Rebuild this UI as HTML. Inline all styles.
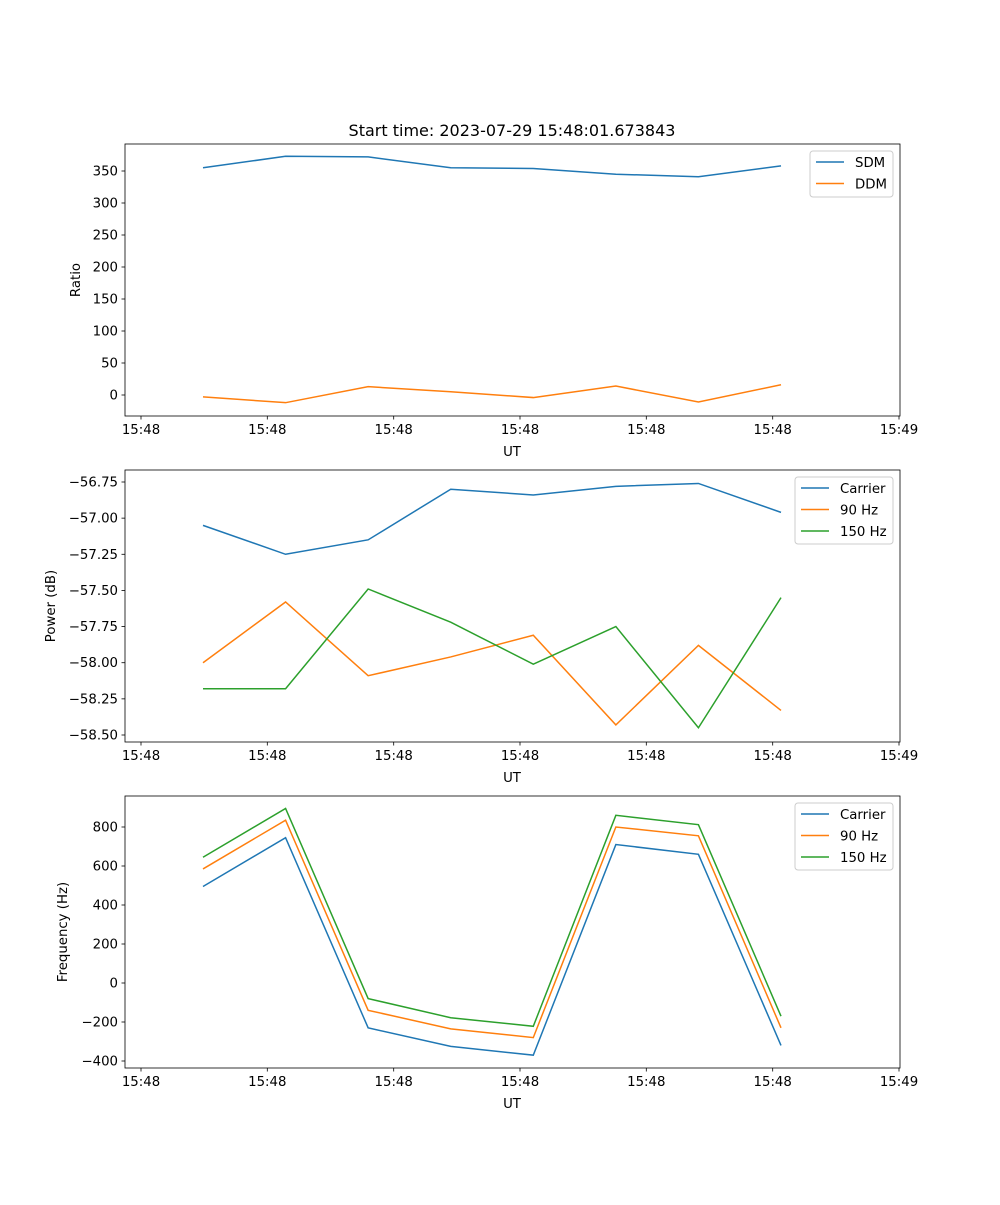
<!DOCTYPE html>
<html><head><meta charset="utf-8"><style>
body{margin:0;background:#fff}
svg text{font-family:"DejaVu Sans","Liberation Sans",sans-serif;font-size:13.3px;fill:#000}
</style></head><body>
<svg id="fig" width="1000" height="1200" xmlns="http://www.w3.org/2000/svg"></svg>
<script>
const xIdx=[0,1,2,3,4,5,6,7];
const xTickLabels=["15:48","15:48","15:48","15:48","15:48","15:48","15:49"];
const sdm=[355,373,372,355,354,345,341,358];
const ddm=[-3,-12,13,5,-4,14,-11,16];
const pCarrier=[-57.05,-57.25,-57.15,-56.80,-56.84,-56.78,-56.76,-56.96];
const p90=[-58.00,-57.58,-58.09,-57.96,-57.81,-58.43,-57.88,-58.33];
const p150=[-58.18,-58.18,-57.49,-57.72,-58.01,-57.75,-58.45,-57.55];
const fCarrier=[495,745,-230,-325,-370,710,660,-320];
const f90=[585,835,-140,-235,-280,800,755,-230];
const f150=[645,895,-80,-178,-222,860,812,-170];
const ticks1=[0,50,100,150,200,250,300,350];
const ticks2=[-58.5,-58.25,-58,-57.75,-57.5,-57.25,-57,-56.75];
const ticks3=[-400,-200,0,200,400,600,800];
const C=["#1f77b4","#ff7f0e","#2ca02c"];
const svg=document.getElementById('fig');
const NS="http://www.w3.org/2000/svg";
function el(t,a,p){const e=document.createElementNS(NS,t);for(const k in a)e.setAttribute(k,a[k]);(p||svg).appendChild(e);return e;}
const L=125,R=900;
function xs(i){return 203+i*(781-203)/7;}
const xTickPos=[141,267.3,393.7,520,646.3,772.7,899];
function panel(top,bot,v0,p0,v1,p1,ticks,fmt,ylabel,series,names,legH,name){
  const g=el('g',{});
  
  const ys=v=>p0+(v-v0)*(p1-p0)/(v1-v0);
  ticks.forEach(t=>{const y=ys(t);
    el('line',{x1:L-3.5,x2:L,y1:y,y2:y,stroke:'#000','stroke-width':0.8},g);
    const tx=el('text',{x:L-7,y:y+4.5,'text-anchor':'end'},g);tx.textContent=fmt(t);
    });
  xTickPos.forEach((x,i)=>{el('line',{x1:x,x2:x,y1:bot,y2:bot+3.5,stroke:'#000','stroke-width':0.8},g);
    const tx=el('text',{x:x,y:bot+18,'text-anchor':'middle'},g);tx.textContent=xTickLabels[i];
    });
  const xl=el('text',{x:512,y:bot+40,'text-anchor':'middle'},g);xl.textContent='UT';
  
  const cy=(top+bot)/2;const ylx=name==='ratio-panel'?80:name==='power-panel'?55:67;
  const yl=el('text',{x:ylx,y:cy,'text-anchor':'middle',transform:`rotate(-90 ${ylx} ${cy})`},g);yl.textContent=ylabel;
  
  series.forEach((s,k)=>{const pl=el('polyline',{points:s.map((v,i)=>xs(xIdx[i])+','+ys(v)).join(' '),fill:'none',stroke:C[k],'stroke-width':1.5},g);
    });
  el('rect',{x:L,y:top,width:R-L,height:bot-top,fill:'none',stroke:'#000','stroke-width':0.8},g);
  const lw=names.length===2?83:98,lx=R-7-lw,ly=top+7;
  const lg=el('g',{},g);
  el('rect',{x:lx,y:ly,width:lw,height:legH,rx:3,fill:'#fff',stroke:'#ccc','stroke-width':1},lg);
  names.forEach((n,k)=>{const yy=ly+11+k*21.5;
    el('line',{x1:lx+6,x2:lx+34,y1:yy,y2:yy,stroke:C[k],'stroke-width':1.5},lg);
    const t=el('text',{x:lx+45,y:yy+5},lg);t.textContent=n;
    });
}
const tt=el('text',{x:512,y:136,'text-anchor':'middle','font-size':'16px',style:'font-size:16px'});
tt.textContent='Start time: 2023-07-29 15:48:01.673843';

panel(144,416,0,395,350,171,ticks1,v=>String(v),'Ratio',[sdm,ddm],['SDM','DDM'],46,'ratio-panel');
panel(470,742,-56.75,482,-58.5,735,ticks2,v=>(v<0?'\u2212':'')+Math.abs(v).toFixed(2),'Power (dB)',[pCarrier,p90,p150],['Carrier','90 Hz','150 Hz'],67,'power-panel');
panel(796,1068,800,827,-400,1061,ticks3,v=>(v<0?'\u2212':'')+Math.abs(v),'Frequency (Hz)',[fCarrier,f90,f150],['Carrier','90 Hz','150 Hz'],67,'frequency-panel');
</script>
</body></html>
